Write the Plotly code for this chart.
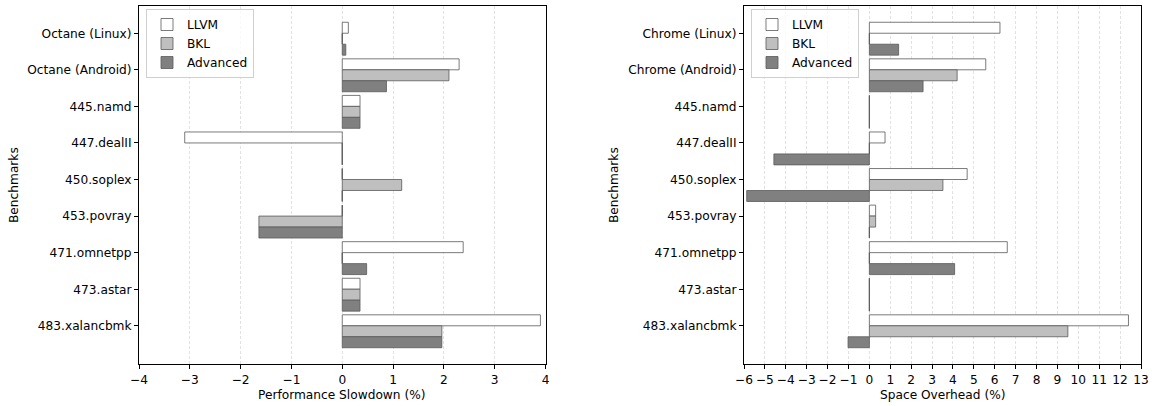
import plotly.graph_objects as go

left_categories = ["Octane (Linux)", "Octane (Android)", "445.namd", "447.dealII", "450.soplex",
                   "453.povray", "471.omnetpp", "473.astar", "483.xalancbmk"]
right_categories = ["Chrome (Linux)", "Chrome (Android)", "445.namd", "447.dealII", "450.soplex",
                    "453.povray", "471.omnetpp", "473.astar", "483.xalancbmk"]
series_names = ["LLVM", "BKL", "Advanced"]

perf_llvm = [0.12, 2.3, 0.35, -3.1, 0.0, 0.0, 2.38, 0.35, 3.9]
perf_bkl = [0.0, 2.1, 0.35, 0.0, 1.17, -1.64, 0.0, 0.35, 1.96]
perf_adv = [0.07, 0.87, 0.35, 0.0, 0.0, -1.64, 0.48, 0.35, 1.96]

space_llvm = [6.25, 5.57, 0.0, 0.75, 4.68, 0.3, 6.6, 0.0, 12.4]
space_bkl = [0.0, 4.2, 0.0, 0.0, 3.52, 0.3, 0.0, 0.0, 9.5]
space_adv = [1.4, 2.57, 0.0, -4.57, -5.87, 0.0, 4.08, 0.0, -1.02]

left_ticks = [-4, -3, -2, -1, 0, 1, 2, 3, 4]
right_ticks = list(range(-6, 14))

fills = ["#ffffff", "#bfbfbf", "#808080"]
edge = "rgba(90,90,90,0.8)"
bar_h = 0.3
offsets = [-bar_h, 0.0, bar_h]

W, H = 1152, 406


def px(xp):
    return xp / W


def py(yp):
    return 1 - yp / H


fig = go.Figure()


def add_panel(values_list, xaxis, yaxis, legend):
    n = len(values_list[0])
    pos = list(range(n))
    for k, (name, vals) in enumerate(zip(series_names, values_list)):
        fig.add_trace(go.Bar(
            x=vals, y=pos, orientation="h", name=name,
            width=bar_h, offset=offsets[k],
            marker=dict(color=fills[k], line=dict(color=edge, width=1)),
            xaxis=xaxis, yaxis=yaxis, showlegend=True, legend=legend,
        ))
    # zero-length bars drawn as thin outlines at zero
    xs, ys = [], []
    for k, vals in enumerate(values_list):
        for i, v in enumerate(vals):
            if v == 0:
                xs += [0, 0, None]
                ys += [i + offsets[k], i + offsets[k] + bar_h, None]
    fig.add_trace(go.Scatter(x=xs, y=ys, mode="lines", line=dict(color=edge, width=1),
                             xaxis=xaxis, yaxis=yaxis, showlegend=False, hoverinfo="skip"))


add_panel([perf_llvm, perf_bkl, perf_adv], "x", "y", "legend")
add_panel([space_llvm, space_bkl, space_adv], "x2", "y2", "legend2")

font = dict(family="DejaVu Sans", size=12.2, color="#000000")
ybot, ytop = py(364), py(6)

common_x = dict(showline=True, linecolor="#000", linewidth=1, mirror=True, ticks="outside",
                ticklen=4, tickcolor="#000", showgrid=True, gridcolor="#e2e2e2",
                griddash="3px,2px", gridwidth=1, zeroline=False, tickfont=font, automargin=False)
common_y = dict(showline=True, linecolor="#000", linewidth=1, mirror=True, ticks="outside",
                ticklen=4, tickcolor="#000", showgrid=False, zeroline=False, tickfont=font,
                range=[9.045, -0.745], tickvals=list(range(9)), automargin=False)

legend_style = dict(xanchor="left", yanchor="top", bgcolor="rgba(255,255,255,0.8)",
                    bordercolor="#d0d0d0", borderwidth=1, font=font, tracegroupgap=0,
                    itemwidth=30)

fig.update_layout(
    template="none",
    width=W, height=H,
    margin=dict(l=0, r=0, t=0, b=0, autoexpand=False),
    paper_bgcolor="white", plot_bgcolor="white",
    font=font,
    barmode="overlay",
    xaxis=dict(domain=[px(139), px(545.5)], range=[-4, 4], tickvals=left_ticks,
               anchor="y", **common_x),
    yaxis=dict(domain=[ybot, ytop], ticktext=left_categories, anchor="x", **common_y),
    xaxis2=dict(domain=[px(744), px(1141)], range=[-6, 13], tickvals=right_ticks,
                anchor="y2", **common_x),
    yaxis2=dict(domain=[ybot, ytop], ticktext=right_categories, anchor="x2", **common_y),
    legend=dict(x=px(146), y=py(9), **legend_style),
    legend2=dict(x=px(751), y=py(9), **legend_style),
    annotations=[
        dict(text="Performance Slowdown (%)", x=px((139 + 545.5) / 2), y=py(395),
             xanchor="center", yanchor="middle",
             xref="paper", yref="paper", showarrow=False, font=font),
        dict(text="Space Overhead (%)", x=px((744 + 1141) / 2), y=py(395),
             xanchor="center", yanchor="middle",
             xref="paper", yref="paper", showarrow=False, font=font),
        dict(text="Benchmarks", x=px(14), y=(ybot + ytop) / 2, textangle=-90,
             xanchor="center", yanchor="middle",
             xref="paper", yref="paper", showarrow=False, font=font),
        dict(text="Benchmarks", x=px(614), y=(ybot + ytop) / 2, textangle=-90,
             xanchor="center", yanchor="middle",
             xref="paper", yref="paper", showarrow=False, font=font),
    ],
)

# remove the browser's default page margin so the figure fills the window exactly
fig.write_html("out.html", config={"displayModeBar": False},
               post_script="document.body.style.margin='0';document.body.style.overflow='hidden';")
